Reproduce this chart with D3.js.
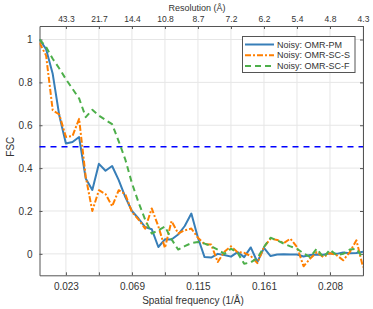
<!DOCTYPE html>
<html lang="en">

<head>
    <meta charset="UTF-8">
    <title>FSC</title>
    <script src="https://cdn.jsdelivr.net/npm/d3@7"></script>
    <style>
        body {
            margin: 0;
            background: #fff;
        }

        text {
            font-family: "Liberation Sans", Arial, sans-serif;
            fill: #333;
        }
    </style>
</head>

<body>
    <div id="box"></div>

    <script>
        const W = 373,
            H = 309

        // spatial frequency step (1/A), shells k = 1..50
        const freqStep = 0.004614
        const shells = d3.range(1, 51)

        const pmValues = [1.0, 0.955, 0.84, 0.645, 0.515, 0.522, 0.545, 0.352, 0.298, 0.42,
            0.388, 0.41, 0.344, 0.265, 0.2, 0.165, 0.125, 0.115, 0.032, 0.068,
            0.067, 0.09, 0.13, 0.188, 0.075, -0.015, -0.017, 0.0, -0.005, -0.013,
            0.008, -0.015, 0.03, -0.038, 0.028, -0.01, -0.003, -0.002, -0.003, -0.003,
            -0.012, -0.005, -0.003, -0.004, 0.003, 0.0, 0.006, 0.003, 0.004, 0.01
        ]
        const scsValues = [0.985, 0.925, 0.67, 0.65, 0.545, 0.55, 0.63, 0.36, 0.2, 0.297,
            0.279, 0.222, 0.297, 0.278, 0.195, 0.16, 0.118, 0.212, 0.128, 0.028,
            0.153, 0.095, 0.11, 0.118, 0.075, 0.045, 0.044, -0.038, 0.01, 0.035,
            0.008, 0.005, -0.01, -0.043, 0.032, 0.071, 0.065, 0.05, 0.071, 0.032,
            -0.058, -0.022, 0.008, -0.015, 0.003, -0.006, -0.03, 0.008, 0.063, -0.062
        ]
        const scfValues = [1.0, 0.965, 0.91, 0.865, 0.815, 0.77, 0.725, 0.638, 0.672, 0.645,
            0.625, 0.605, 0.525, 0.44, 0.33, 0.24, 0.16, 0.095, 0.11, 0.128,
            0.068, 0.02, 0.036, 0.05, 0.055, 0.048, 0.036, 0.02, 0.0, 0.024,
            0.005, -0.046, -0.04, -0.02, 0.032, 0.075, 0.063, 0.048, 0.035, 0.024,
            0.002, -0.015, 0.024, -0.017, 0.02, -0.006, 0.0, 0.02, 0.024, -0.02
        ]

        const seriesNames = ['Noisy: OMR-PM', 'Noisy: OMR-SC-S', 'Noisy: OMR-SC-F']
        const seriesColors = ['#377eb8', '#ff7f00', '#4daf4a']
        const seriesDash = ['none', '6,2,2,2', '6,4']

        // ticks every 5 shells
        const xTickShells = [5, 10, 15, 20, 25, 30, 35, 40, 45, 50]
        const bottomLabels = ['0.023', '', '0.069', '', '0.115', '', '0.161', '', '0.208', '']
        const topLabels = ['43.3', '21.7', '14.4', '10.8', '8.7', '7.2', '6.2', '5.4', '4.8', '4.3']
        const yTicks = [0, 0.2, 0.4, 0.6, 0.8, 1]
        const threshold = 0.5

        const pLeft = 39.5,
            pRight = 363,
            pTop = 26,
            pBottom = 275.3

        const x = d3.scaleLinear().domain([freqStep, 50 * freqStep]).range([pLeft, pRight])
        const y = d3.scaleLinear().domain([-0.1, 1.063]).range([pBottom, pTop])

        const svg = d3.select('#box').append('svg')
            .attr('width', W)
            .attr('height', H)

        svg.append('defs').append('clipPath').attr('id', 'plotClip')
            .append('rect')
            .attr('x', pLeft).attr('y', pTop)
            .attr('width', pRight - pLeft).attr('height', pBottom - pTop)

        //grid
        const grid = svg.append('g')
        grid.selectAll('.vg').data(xTickShells).enter().append('line')
            .attr('x1', d => x(d * freqStep)).attr('x2', d => x(d * freqStep))
            .attr('y1', pTop).attr('y2', pBottom)
            .attr('stroke', '#e6e6e6').attr('stroke-width', 1)
        grid.selectAll('.hg').data(yTicks).enter().append('line')
            .attr('x1', pLeft).attr('x2', pRight)
            .attr('y1', d => y(d)).attr('y2', d => y(d))
            .attr('stroke', '#e6e6e6').attr('stroke-width', 1)

        //axes (ticks pointing inside like matlab)
        const tickVals = xTickShells.map(d => d * freqStep)
        const xBottom = svg.append('g').attr('transform', `translate(0,${pBottom})`)
            .call(d3.axisBottom(x).tickValues(tickVals).tickSizeInner(-3).tickSizeOuter(0)
                .tickPadding(8).tickFormat((d, i) => bottomLabels[i]))
        const xTop = svg.append('g').attr('transform', `translate(0,${pTop})`)
            .call(d3.axisTop(x).tickValues(tickVals).tickSizeInner(-3).tickSizeOuter(0)
                .tickPadding(4).tickFormat((d, i) => topLabels[i]))
        const yLeft = svg.append('g').attr('transform', `translate(${pLeft},0)`)
            .call(d3.axisLeft(y).tickValues(yTicks).tickSizeInner(-3).tickSizeOuter(0)
                .tickPadding(7).tickFormat(d => d === 0 || d === 1 ? d : d.toFixed(1)))
        const yRight = svg.append('g').attr('transform', `translate(${pRight},0)`)
            .call(d3.axisRight(y).tickValues(yTicks).tickSizeInner(-3).tickSizeOuter(0)
                .tickFormat(''))

        svg.selectAll('.domain').attr('stroke', '#555')
        svg.selectAll('.tick line').attr('stroke', '#555')
        svg.selectAll('.tick text').attr('fill', '#333')
            .style('font-family', '"Liberation Sans", Arial, sans-serif')
            .attr('font-size', 10)
        // top labels are a bit smaller
        xTop.selectAll('.tick text').attr('font-size', 8.5)

        //threshold line
        svg.append('line')
            .attr('x1', pLeft).attr('x2', pRight)
            .attr('y1', y(threshold)).attr('y2', y(threshold))
            .attr('stroke', '#0000ff').attr('stroke-width', 1.6)
            .attr('stroke-dasharray', '6,5')

        //curves
        const allSeries = [pmValues, scsValues, scfValues]
        const line = d3.line()
            .x((d, i) => x(shells[i] * freqStep))
            .y(d => y(d))

        const plot = svg.append('g').attr('clip-path', 'url(#plotClip)')
        allSeries.forEach((vals, s) => {
            plot.append('path')
                .attr('d', line(vals))
                .attr('fill', 'none')
                .attr('stroke', seriesColors[s])
                .attr('stroke-width', 2)
                .attr('stroke-linejoin', 'round')
                .attr('stroke-dasharray', seriesDash[s])
        })

        //legend
        const lg = svg.append('g')
        lg.append('rect')
            .attr('x', 242.5).attr('y', 36.5)
            .attr('width', 112.5).attr('height', 36)
            .attr('fill', '#fff').attr('stroke', '#555').attr('stroke-width', 1)
        seriesNames.forEach((name, s) => {
            const ly = 44.5 + s * 10.7
            lg.append('line')
                .attr('x1', 245).attr('x2', 274)
                .attr('y1', ly).attr('y2', ly)
                .attr('stroke', seriesColors[s]).attr('stroke-width', 2)
                .attr('stroke-dasharray', seriesDash[s])
            lg.append('text')
                .attr('x', 277).attr('y', ly).attr('dy', '0.35em')
                .attr('font-size', 9)
                .text(name)
        })

        //titles
        svg.append('text')
            .attr('x', 197).attr('y', 8).attr('dy', '0.35em')
            .attr('text-anchor', 'middle').attr('font-size', 9)
            .text('Resolution (Å)')
        svg.append('text')
            .attr('x', 193).attr('y', 300).attr('dy', '0.35em')
            .attr('text-anchor', 'middle').attr('font-size', 10)
            .text('Spatial frequency (1/Å)')
        svg.append('text')
            .attr('transform', `translate(10.5,${y(0.5)}) rotate(-90)`)
            .attr('dy', '0.35em')
            .attr('text-anchor', 'middle').attr('font-size', 10)
            .text('FSC')
    </script>
</body>

</html>
